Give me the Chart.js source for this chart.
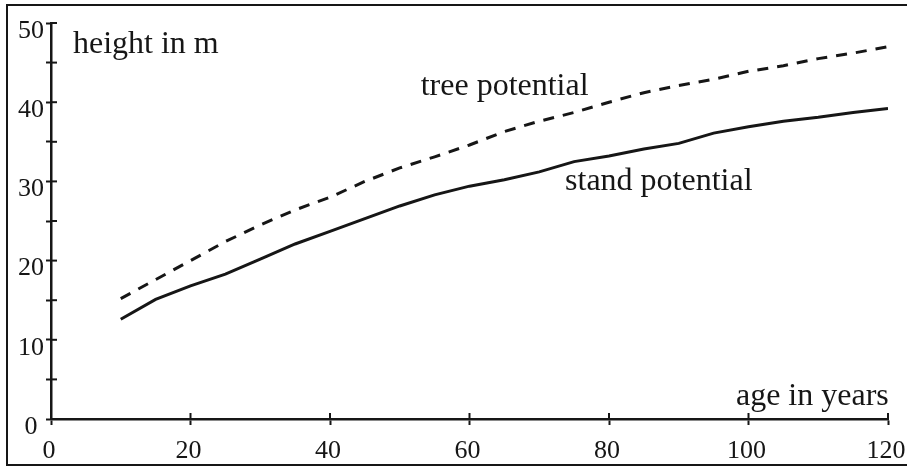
<!DOCTYPE html>
<html>
<head>
<meta charset="utf-8">
<script src="https://cdn.jsdelivr.net/npm/chart.js@4/dist/chart.umd.min.js"></script>
<style>
  html, body { margin: 0; padding: 0; background: #fff; }
  #wrap { width: 907px; height: 466px; position: relative; }
</style>
</head>
<body>
<div id="wrap"><canvas id="c" width="907" height="466"></canvas></div>
<script>
// Stand age (years)
const ages = [10, 15, 20, 25, 30, 35, 40, 45, 50, 55, 60, 65, 70, 75, 80, 85, 90, 95, 100, 105, 110, 115, 120];
// Height of the stand potential (m)
const standHeight = [12.6, 15.1, 16.8, 18.3, 20.2, 22.1, 23.7, 25.3, 26.9, 28.3, 29.4, 30.2, 31.2, 32.5, 33.2, 34.1, 34.8, 36.1, 36.9, 37.6, 38.1, 38.7, 39.2];
// Height of the tree potential (m)
const treeHeight = [15.2, 17.6, 20.0, 22.4, 24.5, 26.4, 28.0, 30.0, 31.7, 33.1, 34.6, 36.3, 37.6, 38.7, 40.0, 41.2, 42.1, 42.9, 43.9, 44.6, 45.5, 46.2, 47.0];
// Axis ranges and tick spacing
const xTickValues = [0, 20, 40, 60, 80, 100, 120];
const yTickValues = [0, 5, 10, 15, 20, 25, 30, 35, 40, 45, 50];
const yLabelledTicks = [0, 10, 20, 30, 40, 50];

const INK = '#161616';
const SERIF = '"Liberation Serif", "Times New Roman", serif';

const toPoints = (xs, ys) => xs.map((x, i) => ({ x, y: ys[i] }));

// Frame around the figure
const framePlugin = {
  id: 'frame',
  beforeDraw(chart) {
    const ctx = chart.ctx;
    ctx.save();
    ctx.fillStyle = '#fff';
    ctx.fillRect(0, 0, chart.width, chart.height);
    ctx.strokeStyle = INK;
    ctx.lineWidth = 2;
    ctx.strokeRect(7, 5, chart.width + 10, chart.height - 6);
    ctx.restore();
  }
};

// Tick marks cross the axes: draw the part inside the plot area
const innerTicksPlugin = {
  id: 'innerTicks',
  afterDraw(chart) {
    const { ctx, scales: { x, y } } = chart;
    ctx.save();
    ctx.strokeStyle = INK;
    ctx.lineWidth = 2;
    const x0 = x.getPixelForValue(0);
    yTickValues.forEach(v => {
      const py = y.getPixelForValue(v);
      ctx.beginPath(); ctx.moveTo(x0, py); ctx.lineTo(x0 + 6, py); ctx.stroke();
    });
    const y0 = y.getPixelForValue(0);
    xTickValues.forEach(v => {
      const px = x.getPixelForValue(v);
      ctx.beginPath(); ctx.moveTo(px, y0); ctx.lineTo(px, y0 - 6); ctx.stroke();
    });
    ctx.restore();
  }
};

// Text labels placed in data space
const annotations = [
  { text: 'height in m', x: 3.15, y: 46.2 },
  { text: 'tree potential', x: 53.0, y: 40.9 },
  { text: 'stand potential', x: 73.7, y: 28.9 },
  { text: 'age in years', x: 98.2, y: 1.77 }
];
const annotationPlugin = {
  id: 'annotationText',
  afterDraw(chart) {
    const { ctx, scales: { x, y } } = chart;
    ctx.save();
    ctx.fillStyle = INK;
    ctx.font = '32px ' + SERIF;
    ctx.textAlign = 'left';
    ctx.textBaseline = 'alphabetic';
    annotations.forEach(a => ctx.fillText(a.text, x.getPixelForValue(a.x), y.getPixelForValue(a.y)));
    ctx.restore();
  }
};

new Chart(document.getElementById('c'), {
  type: 'line',
  data: {
    datasets: [
      {
        label: 'tree potential',
        data: toPoints(ages, treeHeight),
        borderColor: INK,
        borderWidth: 3,
        borderDash: [11, 9],
        pointRadius: 0,
        tension: 0,
        fill: false
      },
      {
        label: 'stand potential',
        data: toPoints(ages, standHeight),
        borderColor: INK,
        borderWidth: 3,
        pointRadius: 0,
        tension: 0,
        fill: false
      }
    ]
  },
  options: {
    responsive: false,
    animation: false,
    devicePixelRatio: 1,
    layout: { padding: { top: 23, right: 19, left: 0, bottom: 0 } },
    plugins: { legend: { display: false }, tooltip: { enabled: false } },
    scales: {
      x: {
        type: 'linear',
        min: 0, max: 120,
        afterFit: s => { s.height = 47; s.paddingLeft = 0; s.paddingRight = 0; },
        afterBuildTicks: s => { s.ticks = xTickValues.map(v => ({ value: v })); },
        grid: { drawOnChartArea: false, drawTicks: true, tickLength: 6, tickWidth: 2, tickColor: INK },
        border: { display: true, color: INK, width: 2.5 },
        ticks: {
          color: INK,
          font: { family: SERIF, size: 26 },
          padding: 11,
          maxRotation: 0,
          autoSkip: false,
          labelOffset: -2,
          callback: v => String(v)
        }
      },
      y: {
        type: 'linear',
        min: 0, max: 50,
        afterFit: s => { s.width = 51; s.paddingTop = 0; s.paddingBottom = 0; },
        afterBuildTicks: s => { s.ticks = yTickValues.map(v => ({ value: v })); },
        grid: { drawOnChartArea: false, drawTicks: true, tickLength: 5, tickWidth: 2, tickColor: INK },
        border: { display: true, color: INK, width: 2.5 },
        ticks: {
          color: INK,
          font: { family: SERIF, size: 26 },
          padding: 2,
          crossAlign: 'center',
          labelOffset: 8,
          autoSkip: false,
          callback: v => (yLabelledTicks.includes(v) ? String(v) : '')
        }
      }
    }
  },
  plugins: [framePlugin, innerTicksPlugin, annotationPlugin]
});
</script>
</body>
</html>
